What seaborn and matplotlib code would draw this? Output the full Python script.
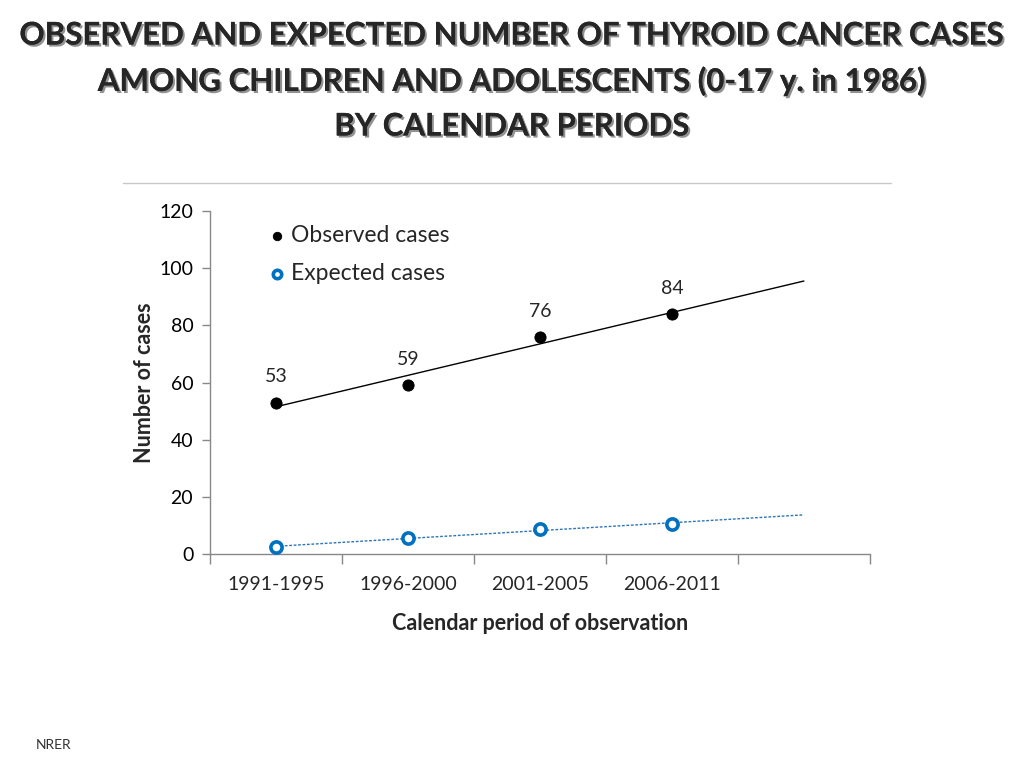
import numpy as np
import pandas as pd
import matplotlib
matplotlib.use("Agg")
import matplotlib.pyplot as plt
import matplotlib.patheffects as pe
import seaborn as sns

# data
periods = ["1991-1995", "1996-2000", "2001-2005", "2006-2011", ""]
observed = [53, 59, 76, 84]
expected = [2.3, 5.7, 8.9, 10.4]

sns.set_theme(style="white")
plt.rcParams["font.family"] = ["Lato", "DejaVu Sans"]

fig = plt.figure(figsize=(10.24, 7.68), dpi=100)
ax = fig.add_axes([0.205, 0.2786, 0.6445, 0.4467])

x = np.arange(len(observed))
df = pd.DataFrame({"x": x, "observed": observed, "expected": expected})

# linear trend lines extended to the 5th (empty) category
xt = np.array([0, len(periods) - 1])
obs_fit = np.polyfit(x, observed, 1)
exp_fit = np.polyfit(x, expected, 1)
trend = pd.DataFrame({"x": xt,
                      "obs": np.polyval(obs_fit, xt),
                      "exp": np.polyval(exp_fit, xt)})

sns.lineplot(data=trend, x="x", y="obs", ax=ax, color="black", lw=1.0)
sns.lineplot(data=trend, x="x", y="exp", ax=ax, color="#2E75B6", lw=1.0,
             linestyle=(0, (2, 1.2)))

sns.scatterplot(data=df, x="x", y="observed", ax=ax, color="black", s=65,
                edgecolor="black", zorder=3, label="Observed cases")
sns.scatterplot(data=df, x="x", y="expected", ax=ax, color="white", s=65,
                edgecolor="#0070C0", linewidth=2.6, zorder=3,
                label="Expected cases")

for xi, v in zip(x, observed):
    ax.text(xi, v + 6, str(v), ha="center", va="bottom", fontsize=14)

ax.set_xlim(-0.5, len(periods) - 0.5)
ax.set_ylim(0, 120)
ax.set_yticks(range(0, 121, 20))
ax.set_xticks(np.arange(-0.5, len(periods)), [""] * (len(periods) + 1))
ax.set_xticks(np.arange(len(periods)), periods, minor=True)
ax.tick_params(axis="x", which="major", bottom=True, direction="out",
               length=7, color="#888888", width=1)
ax.tick_params(axis="x", which="minor", bottom=True, length=0,
               labelsize=14, pad=16)
ax.tick_params(axis="y", left=True, direction="out", length=6,
               color="#888888", width=1, labelsize=14, pad=6)
ax.tick_params(axis="both", labelcolor="black")

for s in ["top", "right"]:
    ax.spines[s].set_visible(False)
for s in ["left", "bottom"]:
    ax.spines[s].set_color("#888888")
    ax.spines[s].set_linewidth(1)

ax.set_xlabel("Calendar period of observation", fontsize=15.5,
              fontweight="bold", labelpad=14)
ax.set_ylabel("Number of cases", fontsize=15.5, fontweight="bold",
              labelpad=3)

leg = ax.legend(loc="upper left", bbox_to_anchor=(0.035, 1.02), frameon=False,
                fontsize=16.5, handletextpad=-0.35, labelspacing=0.75,
                markerscale=0.75)

# thin line at top of chart area
fig.add_artist(plt.Line2D([123 / 1024, 891 / 1024], [1 - 183 / 768] * 2,
                          color="#c8c8c8", lw=1))

title = ("OBSERVED AND EXPECTED NUMBER OF THYROID CANCER CASES\n"
         "AMONG CHILDREN AND ADOLESCENTS (0-17 y. in 1986)\n"
         "BY CALENDAR PERIODS")
fig.text(0.5, 0.972, title, ha="center", va="top", fontsize=22.5,
         fontweight="bold", linespacing=1.72,
         path_effects=[pe.withSimplePatchShadow(offset=(1.5, -1.5),
                                                shadow_rgbFace="#777777",
                                                alpha=0.8),
                       pe.Normal()])

fig.text(0.035, 0.025, "NRER", fontsize=10, color="#333333")

fig.savefig("out.png", dpi=100)
